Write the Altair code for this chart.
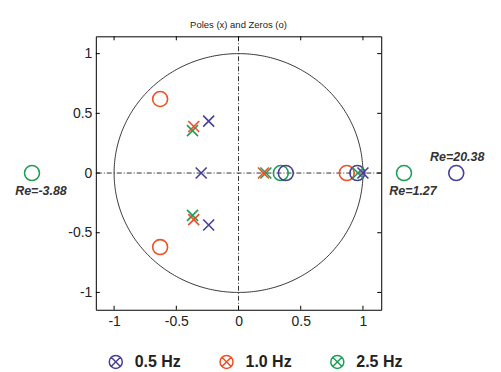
import altair as alt
import pandas as pd
import numpy as np

# ---------------- data ----------------
series_names = ["0.5 Hz", "1.0 Hz", "2.5 Hz"]
series_colors = ["#463f96", "#f04e23", "#1f9e57"]

# poles (x)
poles_05_re = [-0.24, -0.24, -0.30, 1.00]
poles_05_im = [0.435, -0.435, 0.0, 0.0]
poles_10_re = [-0.36, -0.36, 0.20]
poles_10_im = [0.39, -0.39, 0.0]
poles_25_re = [-0.37, -0.37, 0.22, 0.96]
poles_25_im = [0.355, -0.355, 0.0, 0.0]

# zeros (o) inside the view
zeros_05_re = [0.38, 0.955]
zeros_05_im = [0.0, 0.0]
zeros_10_re = [-0.63, -0.63, 0.87]
zeros_10_im = [0.62, -0.62, 0.0]
zeros_25_re = [0.34]
zeros_25_im = [0.0]

# zeros far outside the view: true value and where the annotation is drawn
far_series = ["2.5 Hz", "2.5 Hz", "0.5 Hz"]
far_value = [-3.88, 1.27, 20.38]
far_drawn_at = [-1.66, 1.33, 1.75]
far_label_side = ["below", "below", "above"]

tick_values = [-1, -0.5, 0, 0.5, 1]

W, H = 286, 274
xdom = [-1.147, 1.147]
ydom = [-1.145, 1.145]

FONT = "Liberation Sans"

def frame(series, re, im):
    return pd.DataFrame({"series": [series] * len(re), "re": re, "im": im})

poles = pd.concat([
    frame("2.5 Hz", poles_25_re, poles_25_im),
    frame("1.0 Hz", poles_10_re, poles_10_im),
    frame("0.5 Hz", poles_05_re, poles_05_im),
], ignore_index=True)
zeros = pd.concat([
    frame("1.0 Hz", zeros_10_re, zeros_10_im),
    frame("2.5 Hz", zeros_25_re, zeros_25_im),
    frame("0.5 Hz", zeros_05_re, zeros_05_im),
], ignore_index=True)
far = pd.DataFrame({
    "series": far_series,
    "re": far_drawn_at,
    "im": [0.0] * len(far_series),
    "label": ["Re=%.2f" % v for v in far_value],
    "side": far_label_side,
})

theta = np.linspace(0, 2 * np.pi, 361)
circle = pd.DataFrame({"re": np.cos(theta), "im": np.sin(theta), "o": np.arange(361)})
ticks = pd.DataFrame({"t": tick_values})
axis0 = pd.DataFrame({"v": [0]})

xs = alt.Scale(domain=xdom, nice=False, zero=False)
ys = alt.Scale(domain=ydom, nice=False, zero=False)
cs = alt.Scale(domain=series_names, range=series_colors)

lab = "datum.value < 0 ? '-' + format(-datum.value, '~g') : format(datum.value, '~g')"
xaxis = alt.Axis(values=tick_values, grid=False, domain=False, ticks=False,
                 labelFont=FONT, labelFontSize=14, labelColor="#222",
                 labelPadding=5, title=None, labelExpr=lab)
yaxis = alt.Axis(values=tick_values, grid=False, domain=False, ticks=False,
                 labelFont=FONT, labelFontSize=14, labelColor="#222",
                 labelPadding=4, title=None, labelExpr=lab)

X = alt.X("re:Q", scale=xs, axis=xaxis)
Y = alt.Y("im:Q", scale=ys, axis=yaxis)

unit_circle = alt.Chart(circle).mark_line(color="#222", strokeWidth=0.9).encode(
    x=X, y=Y, order="o:Q")

vline = alt.Chart(axis0).mark_rule(color="#333", strokeWidth=1, strokeDash=[5, 2, 1, 2]).encode(
    x=alt.X("v:Q", scale=xs))
hline = alt.Chart(axis0).mark_rule(color="#333", strokeWidth=1, strokeDash=[5, 2, 1, 2]).encode(
    y=alt.Y("v:Q", scale=ys))

tk = dict(color="#000", strokeWidth=1)
tick_b = alt.Chart(ticks).mark_rule(**tk).encode(x=alt.X("t:Q", scale=xs), y=alt.value(H - 4), y2=alt.value(H))
tick_t = alt.Chart(ticks).mark_rule(**tk).encode(x=alt.X("t:Q", scale=xs), y=alt.value(0), y2=alt.value(4))
tick_l = alt.Chart(ticks).mark_rule(**tk).encode(y=alt.Y("t:Q", scale=ys), x=alt.value(0), x2=alt.value(4))
tick_r = alt.Chart(ticks).mark_rule(**tk).encode(y=alt.Y("t:Q", scale=ys), x=alt.value(W - 4), x2=alt.value(W))

legend_symbol = ("M-1,0A1,1,0,1,1,1,0A1,1,0,1,1,-1,0"
                 "M-0.7071,-0.7071L0.7071,0.7071M-0.7071,0.7071L0.7071,-0.7071")

zero_marks = alt.Chart(zeros).mark_point(shape="circle", filled=False, size=225,
                                        strokeWidth=1.6, opacity=1).encode(
    x=X, y=Y,
    color=alt.Color("series:N", scale=cs, legend=alt.Legend(
        title=None, orient="none", legendX=12, legendY=318, direction="horizontal",
        symbolType=legend_symbol, symbolSize=169, symbolStrokeWidth=1.5,
        labelFont=FONT, labelFontSize=16, labelFontWeight="bold", labelColor="#222",
        labelOffset=11, columnPadding=35, padding=0)))

pole_marks = alt.Chart(poles).mark_point(shape="M-1,-1L1,1M-1,1L1,-1", filled=False, size=121,
                                        strokeWidth=1.6, opacity=1).encode(
    x=X, y=Y, color=alt.Color("series:N", scale=cs, legend=None))

far_marks = alt.Chart(far).mark_point(shape="circle", filled=False, size=225,
                                      strokeWidth=1.6, opacity=1, clip=False).encode(
    x=X, y=Y, color=alt.Color("series:N", scale=cs, legend=None))

txt = dict(font=FONT, fontSize=12.5, fontWeight="bold", fontStyle="italic", color="#333", clip=False)
far_below = alt.Chart(far).transform_filter(alt.datum.side == "below").mark_text(
    dx=9, dy=18, **txt).encode(x=X, y=Y, text="label:N")
far_above = alt.Chart(far).transform_filter(alt.datum.side == "above").mark_text(
    dx=1, dy=-16, **txt).encode(x=X, y=Y, text="label:N")

chart = alt.layer(
    unit_circle, vline, hline, tick_b, tick_t, tick_l, tick_r,
    zero_marks, pole_marks, far_marks, far_below, far_above,
).properties(
    width=W, height=H,
    title=alt.TitleParams("Poles (x) and Zeros (o)", font=FONT, fontSize=9.5,
                          fontWeight="normal", color="#222", offset=6),
    autosize=alt.AutoSizeParams(type="none"),
    padding={"left": 88, "top": 28, "right": 112, "bottom": 60},
).configure_view(stroke="#000", strokeWidth=1)

chart.save("out.html", embed_options={"renderer": "svg", "actions": False})
